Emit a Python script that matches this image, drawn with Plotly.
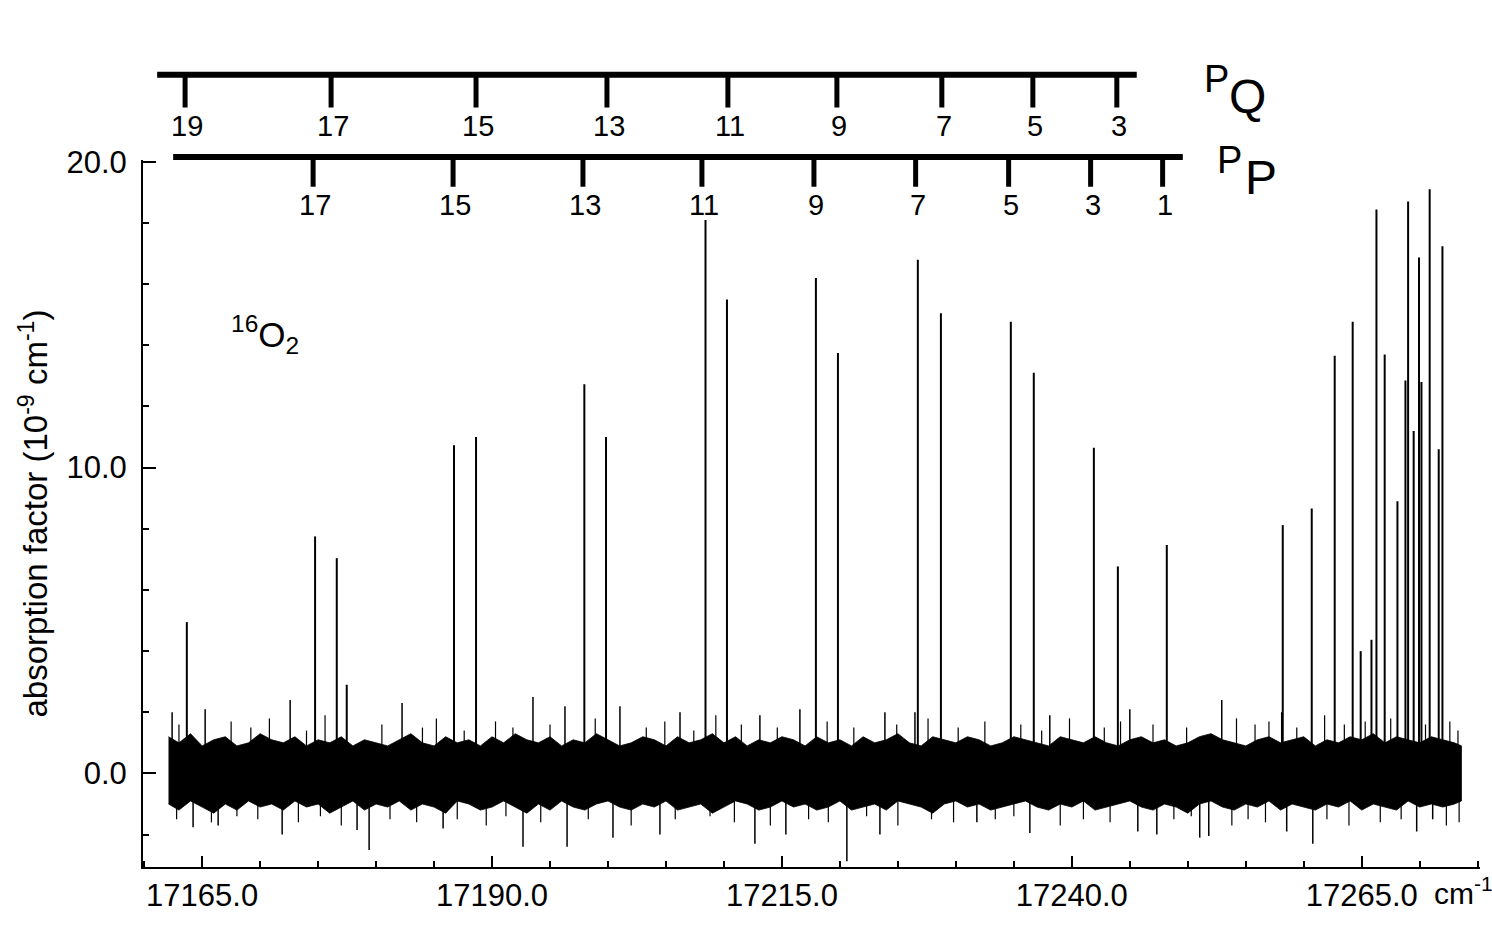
import plotly.graph_objects as go

# ---------------- data ----------------
peak_wn = [17163.68, 17174.74, 17176.61, 17177.47, 17186.72, 17188.62, 17197.96, 17199.83,
           17208.41, 17210.26, 17217.93, 17219.83, 17226.72, 17228.71, 17234.74, 17236.72,
           17241.90, 17243.97, 17248.19, 17258.19, 17260.69, 17262.67, 17264.22, 17264.91,
           17265.84, 17266.27, 17266.98, 17268.08, 17268.77, 17269.00, 17269.48, 17269.94,
           17270.15, 17270.86, 17271.64, 17271.96]
peak_h = [4.95, 7.75, 7.04, 2.9, 10.73, 11.0, 12.73, 11.0,
          18.1, 15.5, 16.2, 13.75, 16.8, 15.05, 14.77, 13.1,
          10.65, 6.77, 7.47, 8.12, 8.66, 13.66, 14.77, 4.0,
          4.37, 18.44, 13.7, 8.9, 12.85, 18.7, 11.2, 16.87,
          12.8, 19.1, 10.6, 17.24]

# dense core of the noise band: upper / lower edge, every 1 cm-1
env_wn = [17162.1, 17163, 17164, 17165, 17166, 17167, 17168, 17169, 17170, 17171,
          17172, 17173, 17174, 17175, 17176, 17177, 17178, 17179, 17180, 17181,
          17182, 17183, 17184, 17185, 17186, 17187, 17188, 17189, 17190, 17191,
          17192, 17193, 17194, 17195, 17196, 17197, 17198, 17199, 17200, 17201,
          17202, 17203, 17204, 17205, 17206, 17207, 17208, 17209, 17210, 17211,
          17212, 17213, 17214, 17215, 17216, 17217, 17218, 17219, 17220, 17221,
          17222, 17223, 17224, 17225, 17226, 17227, 17228, 17229, 17230, 17231,
          17232, 17233, 17234, 17235, 17236, 17237, 17238, 17239, 17240, 17241,
          17242, 17243, 17244, 17245, 17246, 17247, 17248, 17249, 17250, 17251,
          17252, 17253, 17254, 17255, 17256, 17257, 17258, 17259, 17260, 17261,
          17262, 17263, 17264, 17265, 17266, 17267, 17268, 17269, 17270, 17271,
          17272, 17273, 17273.6]
env_upper = [1.2, 1.0, 1.3, 0.9, 1.1, 1.2, 0.9, 1.0, 1.3, 1.1,
             1.0, 1.2, 0.9, 1.1, 1.0, 1.2, 0.9, 1.1, 1.0, 0.9,
             1.1, 1.3, 1.0, 0.9, 1.2, 1.0, 1.1, 0.9, 1.2, 1.0,
             1.3, 1.1, 1.0, 1.2, 0.9, 1.1, 1.0, 1.3, 1.1, 0.9,
             1.0, 1.2, 1.1, 0.9, 1.2, 1.0, 1.1, 1.3, 1.0, 1.2,
             0.9, 1.1, 1.0, 1.2, 1.1, 0.9, 1.2, 1.0, 1.1, 0.9,
             1.2, 1.0, 1.1, 1.3, 1.0, 0.9, 1.2, 1.1, 1.0, 1.2,
             1.1, 0.9, 1.0, 1.2, 1.1, 1.0, 0.9, 1.2, 1.1, 1.0,
             1.2, 1.0, 0.9, 1.1, 1.2, 1.0, 1.1, 0.9, 1.0, 1.2,
             1.3, 1.1, 1.0, 0.9, 1.1, 1.2, 1.0, 1.1, 1.2, 0.9,
             1.1, 1.0, 1.2, 1.1, 1.3, 1.0, 1.2, 1.1, 1.0, 1.2,
             1.1, 1.0, 0.9]
env_lower = [-1.0, -1.2, -0.9, -1.1, -1.3, -1.0, -1.2, -0.9, -1.1, -1.0,
             -1.2, -0.9, -1.1, -1.0, -1.3, -1.1, -0.9, -1.2, -1.0, -1.1,
             -0.9, -1.2, -1.0, -1.1, -1.3, -0.9, -1.0, -1.2, -1.1, -0.9,
             -1.1, -1.3, -1.0, -1.2, -0.9, -1.1, -1.2, -1.0, -0.9, -1.1,
             -1.2, -1.0, -1.1, -0.9, -1.2, -1.1, -1.0, -1.3, -1.1, -0.9,
             -1.0, -1.2, -1.1, -0.9, -1.1, -1.0, -1.2, -1.1, -0.9, -1.2,
             -1.1, -1.0, -1.2, -0.9, -1.0, -1.1, -1.3, -1.0, -0.9, -1.1,
             -1.0, -1.2, -1.1, -1.0, -0.9, -1.1, -1.2, -1.0, -1.1, -0.9,
             -1.2, -1.1, -1.0, -0.9, -1.1, -1.2, -1.0, -1.1, -1.3, -1.0,
             -0.9, -1.1, -1.2, -1.0, -1.1, -0.9, -1.2, -1.0, -1.1, -1.2,
             -1.0, -1.1, -0.9, -1.2, -1.0, -1.1, -1.2, -0.9, -1.1, -1.0,
             -1.1, -1.0, -0.9]

# prominent noise spikes
spike_wn = [17164.22, 17166.38, 17171.90, 17178.36, 17179.40, 17185.78, 17192.67, 17196.47,
            17200.43, 17204.48, 17212.67, 17215.34, 17220.60, 17223.45, 17231.81, 17236.38,
            17245.69, 17247.33, 17251.03, 17251.81, 17258.53, 17260.78, 17269.74, 17271.12,
            17162.41, 17165.26, 17172.59, 17182.24, 17193.53, 17196.29, 17201.03, 17206.21,
            17213.10, 17216.55, 17223.88, 17226.47, 17238.10, 17245.00, 17252.93, 17258.10]
spike_val = [-1.76, -1.7, -2.0, -1.85, -2.5, -1.8, -2.4, -2.4,
             -2.1, -2.0, -2.3, -2.0, -2.87, -2.0, -1.6, -1.95,
             -1.9, -2.0, -2.1, -2.05, -1.9, -2.3, -1.9, -1.5,
             2.0, 2.1, 2.4, 2.3, 2.5, 2.2, 2.2, 2.0,
             1.9, 2.1, 2.0, 2.0, 1.9, 2.1, 2.4, 2.0]

# smaller noise spikes poking out of the band
minor_wn = [17163.0, 17167.5, 17169.2, 17170.8, 17174.0, 17175.6, 17180.5, 17184.0, 17185.2,
            17187.6, 17190.3, 17191.8, 17195.0, 17198.9, 17203.3, 17204.9, 17207.4, 17209.3,
            17211.5, 17214.6, 17218.9, 17221.2, 17224.9, 17227.6, 17230.2, 17232.5, 17235.6,
            17237.4, 17239.8, 17242.8, 17244.2, 17247.0, 17249.9, 17254.2, 17255.8, 17257.0,
            17259.4, 17261.8, 17263.5, 17265.3, 17267.5, 17270.5, 17272.6, 17273.3,
            17162.8, 17165.8, 17168.0, 17169.8, 17173.3, 17175.2, 17177.0, 17181.2, 17183.5,
            17187.0, 17189.5, 17191.2, 17194.2, 17198.3, 17202.0, 17205.8, 17208.8, 17210.9,
            17214.0, 17217.3, 17219.0, 17222.3, 17225.0, 17227.9, 17229.8, 17233.4, 17235.0,
            17239.0, 17241.0, 17243.3, 17248.8, 17250.3, 17253.8, 17255.2, 17256.7, 17262.0,
            17263.9, 17266.6, 17268.4, 17272.3, 17273.4]
minor_val = [1.6, 1.7, 1.5, 1.8, 1.4, 1.9, 1.6, 1.5, 1.8,
             1.4, 1.7, 1.5, 1.6, 1.8, 1.5, 1.7, 1.4, 1.9,
             1.6, 1.5, 1.7, 1.5, 1.6, 1.8, 1.5, 1.7, 1.6,
             1.4, 1.8, 1.5, 1.7, 1.6, 1.5, 1.8, 1.6, 1.7,
             1.5, 1.9, 1.6, 1.7, 1.8, 1.6, 1.7, 1.4,
             -1.5, -1.6, -1.4, -1.5, -1.6, -1.4, -1.7, -1.5, -1.6,
             -1.5, -1.7, -1.4, -1.6, -1.5, -1.7, -1.5, -1.4, -1.6,
             -1.7, -1.5, -1.6, -1.4, -1.7, -1.5, -1.6, -1.5, -1.4,
             -1.7, -1.5, -1.6, -1.5, -1.4, -1.7, -1.5, -1.6, -1.5,
             -1.7, -1.6, -1.5, -1.7, -1.6]

pq_j = [19, 17, 15, 13, 11, 9, 7, 5, 3]
pq_wn = [17163.53, 17176.12, 17188.62, 17199.91, 17210.34, 17219.74, 17228.79, 17236.64, 17243.88]
pq_line = [17161.12, 17245.60]
pp_j = [17, 15, 13, 11, 9, 7, 5, 3, 1]
pp_wn = [17174.57, 17186.64, 17197.84, 17208.10, 17217.76, 17226.53, 17234.55, 17241.62, 17247.83]
pp_line = [17162.5, 17249.57]

x_tick_vals = [17165, 17190, 17215, 17240, 17265]
x_tick_text = ["17165.0", "17190.0", "17215.0", "17240.0", "17265.0"]
y_tick_vals = [0, 10, 20]
y_tick_text = ["0.0", "10.0", "20.0"]

FONT = "Liberation Sans, Arial, sans-serif"

# ---------------- figure ----------------
fig = go.Figure()

fig.add_trace(go.Scatter(
    x=env_wn + env_wn[::-1], y=env_upper + env_lower[::-1],
    fill="toself", fillcolor="black", mode="lines",
    line=dict(color="black", width=0.8), hoverinfo="skip", showlegend=False))


def segments(xs, ys):
    ox, oy = [], []
    for w, v in zip(xs, ys):
        ox += [w, w, None]
        oy += [0, v, None]
    return ox, oy


mx, my = segments(minor_wn, minor_val)
fig.add_trace(go.Scatter(x=mx, y=my, mode="lines", line=dict(color="black", width=1.2),
                         hoverinfo="skip", showlegend=False))
sx, sy = segments(spike_wn, spike_val)
fig.add_trace(go.Scatter(x=sx, y=sy, mode="lines", line=dict(color="black", width=1.5),
                         hoverinfo="skip", showlegend=False))
px, py = segments(peak_wn, peak_h)
fig.add_trace(go.Scatter(x=px, y=py, mode="lines", line=dict(color="black", width=2),
                         hoverinfo="skip", showlegend=False))

# plot-area geometry in pixels -> paper fractions
L_PX, R_PX, T_PX, B_PX = 143, 1480, 160, 874
def pxx(X):
    return (X - L_PX) / (R_PX - L_PX)
def pxy(Y):
    return (B_PX - Y) / (B_PX - T_PX)

shapes = []
shapes.append(dict(type="line", xref="x", yref="paper", x0=pq_line[0], x1=pq_line[1],
                   y0=pxy(74), y1=pxy(74), line=dict(color="black", width=6)))
for w in pq_wn:
    shapes.append(dict(type="line", xref="x", yref="paper", x0=w, x1=w,
                       y0=pxy(74), y1=pxy(107), line=dict(color="black", width=5)))
shapes.append(dict(type="line", xref="x", yref="paper", x0=pp_line[0], x1=pp_line[1],
                   y0=pxy(157), y1=pxy(157), line=dict(color="black", width=6)))
for w in pp_wn:
    shapes.append(dict(type="line", xref="x", yref="paper", x0=w, x1=w,
                       y0=pxy(157), y1=pxy(187), line=dict(color="black", width=5)))

annotations = []
for j, w in zip(pq_j, pq_wn):
    annotations.append(dict(x=w, y=pxy(126), xref="x", yref="paper", text=str(j),
                            xshift=2, showarrow=False, xanchor="center", yanchor="middle",
                            font=dict(size=29, color="black", family=FONT)))
for j, w in zip(pp_j, pp_wn):
    annotations.append(dict(x=w, y=pxy(205), xref="x", yref="paper", text=str(j),
                            xshift=2, showarrow=False, xanchor="center", yanchor="middle",
                            font=dict(size=29, color="black", family=FONT)))

annotations += [
    dict(x=pxx(1216), y=pxy(78), xref="paper", yref="paper", text="P", showarrow=False,
         xanchor="center", yanchor="middle", font=dict(size=38, color="black", family=FONT)),
    dict(x=pxx(1247), y=pxy(96), xref="paper", yref="paper", text="Q", showarrow=False,
         xanchor="center", yanchor="middle", font=dict(size=48, color="black", family=FONT)),
    dict(x=pxx(1229), y=pxy(160), xref="paper", yref="paper", text="P", showarrow=False,
         xanchor="center", yanchor="middle", font=dict(size=38, color="black", family=FONT)),
    dict(x=pxx(1261), y=pxy(178), xref="paper", yref="paper", text="P", showarrow=False,
         xanchor="center", yanchor="middle", font=dict(size=48, color="black", family=FONT)),
    dict(x=pxx(265), y=pxy(336), xref="paper", yref="paper", text="<sup>16</sup>O<sub>2</sub>",
         showarrow=False, xanchor="center", yanchor="middle",
         font=dict(size=35, color="black", family=FONT)),
    dict(x=pxx(33), y=pxy(517), xref="paper", yref="paper",
         text="absorption factor (10<sup>-9</sup> cm<sup>-1</sup>)", textangle=-90,
         showarrow=False, xanchor="center", yanchor="middle",
         font=dict(size=33, color="black", family=FONT)),
    dict(x=pxx(1432), y=pxy(898), xref="paper", yref="paper", text="cm<sup>-1</sup>",
         showarrow=False, xanchor="left", yanchor="middle",
         font=dict(size=30, color="black", family=FONT)),
]

fig.update_layout(
    width=1492, height=925,
    margin=dict(l=L_PX, r=1492 - R_PX, t=T_PX, b=925 - B_PX, pad=0),
    paper_bgcolor="white", plot_bgcolor="white",
    shapes=shapes, annotations=annotations,
    font=dict(family=FONT, color="black"),
    showlegend=False,
)
fig.update_xaxes(
    range=[17159.9, 17275.2], showgrid=False, zeroline=False,
    showline=True, linecolor="black", linewidth=2, mirror=False,
    tickmode="array", tickvals=x_tick_vals, ticktext=x_tick_text,
    ticks="inside", ticklen=11, tickwidth=2, tickcolor="black",
    tickfont=dict(size=31, color="black", family=FONT),
    minor=dict(tickmode="linear", tick0=17160, dtick=5, ticks="inside", ticklen=6,
               tickwidth=1.5, tickcolor="black", showgrid=False),
)
fig.update_yaxes(
    range=[-3.06, 20.06], showgrid=False, zeroline=False,
    showline=True, linecolor="black", linewidth=2, mirror=False,
    tickmode="array", tickvals=y_tick_vals, ticktext=y_tick_text,
    ticks="inside", ticklen=13, tickwidth=2, tickcolor="black",
    ticklabelstandoff=8,
    tickfont=dict(size=31, color="black", family=FONT),
    minor=dict(tickmode="linear", tick0=0, dtick=2, ticks="inside", ticklen=6,
               tickwidth=1.5, tickcolor="black", showgrid=False),
)

fig.write_html("out.html", config={"displayModeBar": False},
               post_script="document.body.style.margin='0';")
